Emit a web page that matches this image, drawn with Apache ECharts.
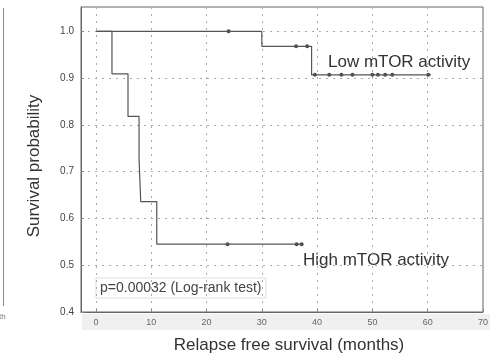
<!DOCTYPE html>
<html><head><meta charset="utf-8">
<script src="https://cdn.jsdelivr.net/npm/echarts@6/dist/echarts.min.js"></script>
<style>html,body{margin:0;padding:0;background:#fff}#c{width:491px;height:359px}</style>
</head><body><div id="c"></div>
<script>
// Kaplan-Meier step data (months, survival probability)
const highTime = [0, 2.9, 5.8, 7.8, 8.1, 11.0, 37.2];
const highSurv = [1.0, 0.909, 0.818, 0.727, 0.636, 0.545, 0.545];
const highCensorTime = [23.8, 36.3, 37.2];
const highCensorSurv = [0.545, 0.545, 0.545];

const lowTime = [0, 30.0, 39.0, 60.6];
const lowSurv = [1.0, 0.968, 0.907, 0.907];
const lowCensorTime = [24.0, 36.2, 38.2, 39.6, 42.2, 44.4, 46.4, 50.0, 51.0, 52.3, 53.6, 60.1];
const lowCensorSurv = [1.0, 0.968, 0.968, 0.907, 0.907, 0.907, 0.907, 0.907, 0.907, 0.907, 0.907, 0.907];

const xTicks = [0, 10, 20, 30, 40, 50, 60, 70];
const yTicks = [0.4, 0.5, 0.6, 0.7, 0.8, 0.9, 1.0];

const zip = (a, b) => a.map((v, i) => [v, b[i]]);

const chart = echarts.init(document.getElementById('c'), null, {renderer: 'canvas'});
const font = '"Liberation Sans", Arial, sans-serif';
chart.setOption({
  animation: false,
  grid: {left: 81, right: 6, top: 7, bottom: 47, show: true, borderColor: '#666', borderWidth: 1},
  xAxis: {
    type: 'value', min: -2.7, max: 70,
    name: 'Relapse free survival (months)', nameLocation: 'middle', nameGap: 25,
    nameTextStyle: {fontFamily: font, fontSize: 17, color: '#333', padding: [0, 0, 0, 14]},
    axisLine: {show: true, onZero: false, lineStyle: {color: '#666'}},
    axisTick: {show: true, inside: true, length: 3, customValues: xTicks, lineStyle: {color: '#888'}},
    axisLabel: {customValues: xTicks, fontFamily: font, fontSize: 9, color: '#666', margin: 6},
    splitLine: {show: true, lineStyle: {color: '#aaa', type: [2, 5], width: 1}}
  },
  yAxis: {
    type: 'value', min: 0.4, max: 1.052,
    name: 'Survival probability', nameLocation: 'middle', nameGap: 38,
    nameTextStyle: {fontFamily: font, fontSize: 17, color: '#333', padding: [0, 13, 0, 0]},
    axisLine: {show: true, onZero: false, lineStyle: {color: '#666'}},
    axisTick: {show: true, inside: true, length: 3, customValues: yTicks, lineStyle: {color: '#888'}},
    axisLabel: {customValues: yTicks, fontFamily: font, fontSize: 10, color: '#444', margin: 7,
      formatter: v => v.toFixed(1)},
    splitLine: {show: true, lineStyle: {color: '#aaa', type: [2, 5], width: 1}}
  },
  graphic: [
    {type: 'rect', z: -1, shape: {x: 82, y: 314, width: 408, height: 16}, style: {fill: '#f0f0f0'}},
    {type: 'line', shape: {x1: 3.5, y1: 8, x2: 3.5, y2: 306}, style: {stroke: '#888', lineWidth: 1}},
    {type: 'text', x: -1, y: 313, style: {text: 'th', font: '8px ' + font, fill: '#777'}},
    {type: 'text', x: 328, y: 62, style: {text: 'Low mTOR activity', font: '17px ' + font, fill: '#333', verticalAlign: 'middle'}},
    {type: 'text', x: 303, y: 260, style: {text: 'High mTOR activity', font: '17px ' + font, fill: '#333', verticalAlign: 'middle'}},
    {type: 'rect', shape: {x: 96, y: 278, width: 170, height: 20}, style: {fill: 'none', stroke: '#ddd', lineWidth: 1}},
    {type: 'text', x: 100, y: 288, style: {text: 'p=0.00032 (Log-rank test)', font: '14px ' + font, fill: '#444', verticalAlign: 'middle'}}
  ],
  series: [
    {type: 'line', name: 'High', step: 'end', data: zip(highTime, highSurv), showSymbol: false,
      lineStyle: {color: '#555', width: 1.2}},
    {type: 'line', name: 'Low', step: 'end', data: zip(lowTime, lowSurv), showSymbol: false,
      lineStyle: {color: '#555', width: 1.2}},
    {type: 'scatter', data: zip(highCensorTime, highCensorSurv), symbol: 'circle', symbolSize: 4,
      itemStyle: {color: '#222'}},
    {type: 'scatter', data: zip(lowCensorTime, lowCensorSurv), symbol: 'circle', symbolSize: 4,
      itemStyle: {color: '#222'}}
  ]
});
</script></body></html>
